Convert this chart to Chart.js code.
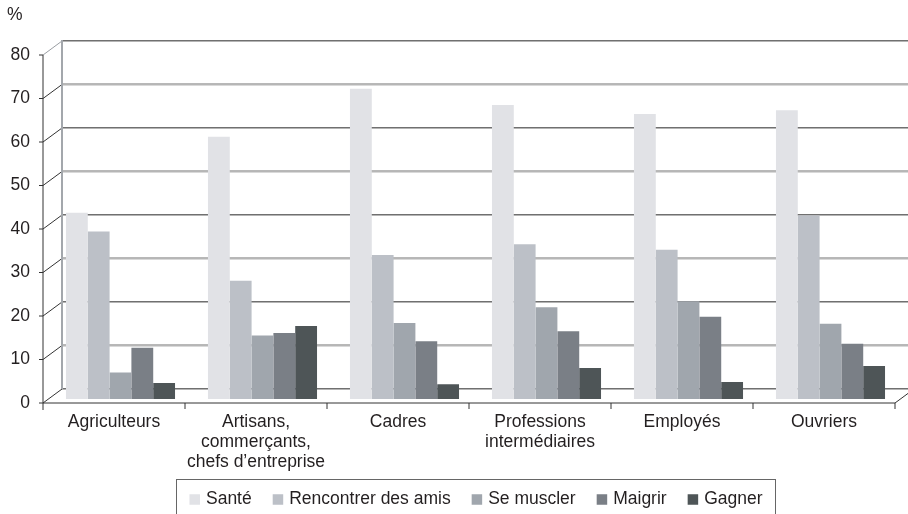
<!DOCTYPE html>
<html>
<head>
<meta charset="utf-8">
<script src="https://cdn.jsdelivr.net/npm/chart.js@4.4.1/dist/chart.umd.min.js"></script>
<style>
	html, body { margin: 0; padding: 0; background: #fff; }
	#wrap { width: 908px; height: 514px; }
</style>
</head>
<body>
<div id="wrap"><canvas id="chart" width="908" height="514"></canvas></div>
<script>
var categories = [
	'Agriculteurs',
	['Artisans,', 'commerçants,', 'chefs d\u2019entreprise'],
	'Cadres',
	['Professions', 'intermédiaires'],
	'Employés',
	'Ouvriers'
];
var series_names = ['Santé', 'Rencontrer des amis', 'Se muscler', 'Maigrir', 'Gagner'];
var sante = [42.8, 60.3, 71.3, 67.6, 65.5, 66.4];
var amis = [38.5, 27.2, 33.1, 35.6, 34.3, 42.2];
var muscler = [6.1, 14.6, 17.5, 21.1, 22.5, 17.3];
var maigrir = [11.8, 15.2, 13.3, 15.6, 18.9, 12.7];
var gagner = [3.7, 16.8, 3.4, 7.1, 3.9, 7.6];
var y_ticks = [0, 10, 20, 30, 40, 50, 60, 70, 80];

var colors = ['#e1e2e6', '#bcc0c7', '#a0a6ad', '#7a7f86', '#4e5557'];
var FONT = '"Liberation Sans", Arial, sans-serif';
var TEXT = '#231f20';

// fake 3d: front plane and back wall offsets from the bar plane
var FRONT_DX = -6.5, FRONT_DY = 4;
var BACK_DX = 12.5, BACK_DY = -10;

function line(ctx, x1, y1, x2, y2, color, width) {
	ctx.beginPath();
	ctx.strokeStyle = color;
	ctx.lineWidth = width;
	ctx.moveTo(x1, y1);
	ctx.lineTo(x2, y2);
	ctx.stroke();
}

var frame = {
	id: 'frame',
	beforeDatasetsDraw: function (chart) {
		var ctx = chart.ctx;
		var y = chart.scales.y, x = chart.scales.x;
		var left = chart.chartArea.left, right = chart.chartArea.right;
		var W = chart.width;
		ctx.save();
		for (let v of y_ticks) {
			var yb = y.getPixelForValue(v);
			// back wall gridline (two tone)
			line(ctx, left + BACK_DX, yb + BACK_DY - 0.5, W, yb + BACK_DY - 0.5, '#707070', 1);
			line(ctx, left + BACK_DX, yb + BACK_DY + 0.5, W, yb + BACK_DY + 0.5, '#b4b4b4', 1);
			// side wall diagonal
			line(ctx, left + FRONT_DX, yb + FRONT_DY, left + BACK_DX, yb + BACK_DY, v == 80 ? '#9a9ea3' : '#333', 1);
			// front tick
			line(ctx, left + FRONT_DX - 4, yb + FRONT_DY, left + FRONT_DX, yb + FRONT_DY, '#333', 1);
		}
		var y0 = y.getPixelForValue(0), y80 = y.getPixelForValue(80);
		// back wall vertical edge
		line(ctx, left + BACK_DX, y0 + BACK_DY, left + BACK_DX, y80 + BACK_DY - 1, '#a3a7ac', 2);
		// front axes
		line(ctx, left + FRONT_DX, y80 + FRONT_DY, left + FRONT_DX, y0 + FRONT_DY + 7, '#333', 1);
		line(ctx, left + FRONT_DX, y0 + FRONT_DY, right + FRONT_DX, y0 + FRONT_DY, '#333', 1);
		line(ctx, right + FRONT_DX, y0 + FRONT_DY, right + BACK_DX, y0 + BACK_DY, '#333', 1);
		var n = categories.length;
		for (let i = 1; i <= n; i++) {
			var xt = left + i * (right - left) / n + FRONT_DX;
			line(ctx, xt, y0 + FRONT_DY, xt, y0 + FRONT_DY + 6, '#333', 1);
		}
		ctx.restore();
	},
	afterDraw: function (chart) {
		var ctx = chart.ctx;
		ctx.save();
		ctx.font = '17.5px ' + FONT;
		ctx.fillStyle = TEXT;
		ctx.textBaseline = 'middle';
		ctx.fillText('%', 7, 15);

		// legend box
		var bx = 176.5, by = 479.5, bw = 599, bh = 40;
		ctx.strokeStyle = '#666';
		ctx.lineWidth = 1;
		ctx.strokeRect(bx, by, bw, bh);
		var sq = 10.5, gapText = 6, gapItem = 21;
		var total = 0;
		for (let s of series_names) total += sq + gapText + ctx.measureText(s).width;
		total += gapItem * (series_names.length - 1);
		var cx = bx + bw / 2 - total / 2;
		var cy = 499.5;
		for (let i = 0; i < series_names.length; i++) {
			ctx.fillStyle = colors[i];
			ctx.fillRect(cx, cy - sq / 2, sq, sq);
			cx += sq + gapText;
			ctx.fillStyle = TEXT;
			ctx.textAlign = 'left';
			ctx.fillText(series_names[i], cx, cy);
			cx += ctx.measureText(series_names[i]).width + gapItem;
		}
		ctx.restore();
	}
};

var all_series = [sante, amis, muscler, maigrir, gagner];
var datasets = [];
for (let i = 0; i < all_series.length; i++) {
	datasets.push({
		label: series_names[i],
		data: all_series[i],
		backgroundColor: colors[i],
		borderWidth: 0,
		categoryPercentage: 0.768,
		barPercentage: 1
	});
}

var ctx = document.getElementById('chart').getContext('2d');
var chart = new Chart(ctx, {
	type: 'bar',
	data: { labels: categories, datasets: datasets },
	plugins: [frame],
	options: {
		responsive: false,
		animation: false,
		layout: { padding: { top: 51, left: 0, right: 6.5, bottom: 0 } },
		plugins: {
			legend: { display: false },
			title: { display: false },
			tooltip: { enabled: false }
		},
		scales: {
			x: {
				grid: { display: false, drawTicks: false },
				border: { display: false },
				afterFit: function (scale) { scale.height = 115; },
				ticks: {
					color: TEXT,
					font: { family: FONT, size: 17.5, lineHeight: 1.15 },
					padding: 13,
					labelOffset: FRONT_DX,
					maxRotation: 0,
					autoSkip: false
				}
			},
			y: {
				min: 0,
				max: 80,
				grid: { display: false, drawTicks: false },
				border: { display: false },
				afterFit: function (scale) { scale.width = 49.5; },
				ticks: {
					stepSize: 10,
					color: TEXT,
					font: { family: FONT, size: 17.5 },
					padding: 19.5,
					labelOffset: FRONT_DY
				}
			}
		}
	}
});
</script>
</body>
</html>
